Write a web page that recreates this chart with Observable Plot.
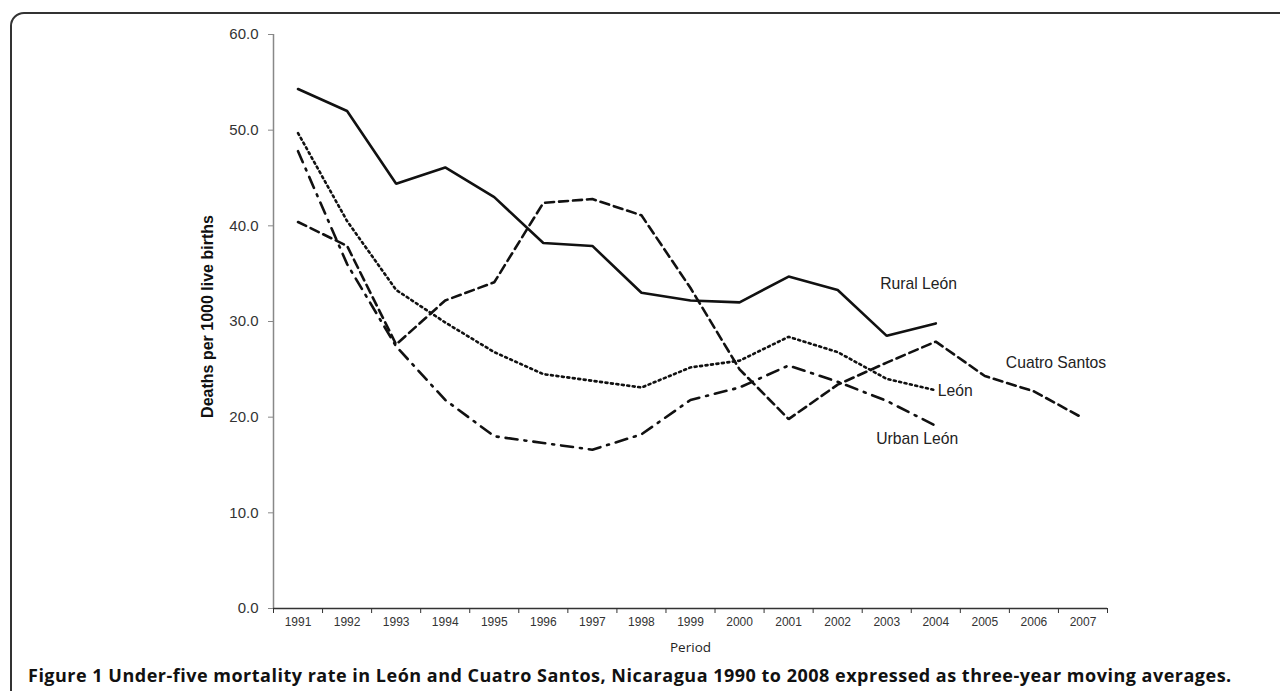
<!DOCTYPE html>
<html><head><meta charset="utf-8">
<script src="https://cdn.jsdelivr.net/npm/d3@7"></script>
<script src="https://cdn.jsdelivr.net/npm/@observablehq/plot@0.6"></script>
<style>
body{margin:0;background:#fff;width:1280px;height:691px;overflow:hidden;position:relative}
#frame{position:absolute;left:10px;top:12px;width:1320px;height:740px;border:2px solid #333;border-radius:14px;box-sizing:border-box}
#chart{position:absolute;left:0;top:0}
#caption{position:absolute;left:28px;top:663px;font:700 18px "Open Sans";letter-spacing:0.5px;white-space:nowrap;color:#111}
</style></head><body>
<div id="frame"></div><div id="chart"></div>
<div id="caption">Figure 1 Under-five mortality rate in León and Cuatro Santos, Nicaragua 1990 to 2008 expressed as three-year moving averages.</div>
<script>
const years = [1991,1992,1993,1994,1995,1996,1997,1998,1999,2000,2001,2002,2003,2004,2005,2006,2007];
const ruralLeon   = [54.3,52.0,44.4,46.1,43.0,38.2,37.9,33.0,32.2,32.0,34.7,33.3,28.5,29.8];
const cuatroSantos= [40.4,37.9,27.6,32.2,34.1,42.4,42.8,41.1,33.5,25.0,19.8,23.4,25.7,27.9,24.3,22.7,19.9];
const leon        = [49.7,40.5,33.3,29.9,26.8,24.5,23.8,23.1,25.2,25.9,28.4,26.8,24.0,22.8];
const urbanLeon   = [47.8,36.0,27.4,21.8,18.0,17.3,16.6,18.2,21.8,23.1,25.4,23.7,21.7,19.1];
const yTicks = [0,10,20,30,40,50,60];
const seriesLabels = [
  {text:"Rural León", year:2003.65, value:33.9, anchor:"middle"},
  {text:"Cuatro Santos", year:2006.45, value:25.7, anchor:"middle"},
  {text:"León", year:2004.0, value:22.75, anchor:"start"},
  {text:"Urban León", year:2003.62, value:17.7, anchor:"middle"}
];
const yTitle = "Deaths per 1000 live births";
const xTitle = "Period";

const toRows = vals => vals.map((v,i)=>({year:years[i], value:v}));
const series = [
  {rows: toRows(ruralLeon), dash: null},
  {rows: toRows(cuatroSantos), dash: "9,5"},
  {rows: toRows(leon), dash: "2,3.5"},
  {rows: toRows(urbanLeon), dash: "12,7,2,7"}
];

const chart = Plot.plot({
  width: 1280, height: 660,
  marginTop: 34, marginBottom: 52, marginLeft: 273, marginRight: 173,
  style: {fontFamily: "'Liberation Sans', Arial, sans-serif", fontSize: "13px", color: "#333", background: "transparent"},
  x: {domain: [1990.5, 2007.5]},
  y: {domain: [0, 60]},
  marks: [
    Plot.ruleX([1990.5], {y1: 0, y2: 60, stroke: "#888", strokeWidth: 1.5}),
    Plot.ruleY([0], {x1: 1990.5, x2: 2007.5, stroke: "#333", strokeWidth: 1.5}),
    Plot.axisY({ticks: yTicks, tickFormat: d => d.toFixed(1), tickSize: 5, tickPadding: 10, stroke: "#888", fill: "#333", label: null, fontSize: 15}),
    Plot.axisX({ticks: years, tickFormat: d => String(d), tickSize: 0, tickPadding: 9, fill: "#333", label: null, fontSize: 12}),
    Plot.axisX({ticks: d3.range(1990.5, 2008, 1), tickFormat: () => "", tickSize: 5, stroke: "#333", label: null}),
    ...series.map(s => Plot.line(s.rows, {x: "year", y: "value", stroke: "#111", strokeWidth: 2.6, strokeDasharray: s.dash, strokeLinejoin: "miter"})),
    ...seriesLabels.map(l => Plot.text([l], {x: "year", y: "value", text: "text", textAnchor: l.anchor, dx: l.anchor === "start" ? 2 : 0, fontSize: 15.7, fill: "#222"})),
    Plot.text([yTitle], {frameAnchor: "left", textAnchor: "middle", rotate: -90, dx: -66, dy: -5, fontWeight: "bold", fontSize: 16, fill: "#111"}),
    Plot.text([xTitle], {frameAnchor: "bottom", dy: 43, fontFamily: "'Open Sans', sans-serif", fontSize: 13.5, fill: "#222"})
  ]
});
document.getElementById("chart").appendChild(chart);
</script>
</body></html>
